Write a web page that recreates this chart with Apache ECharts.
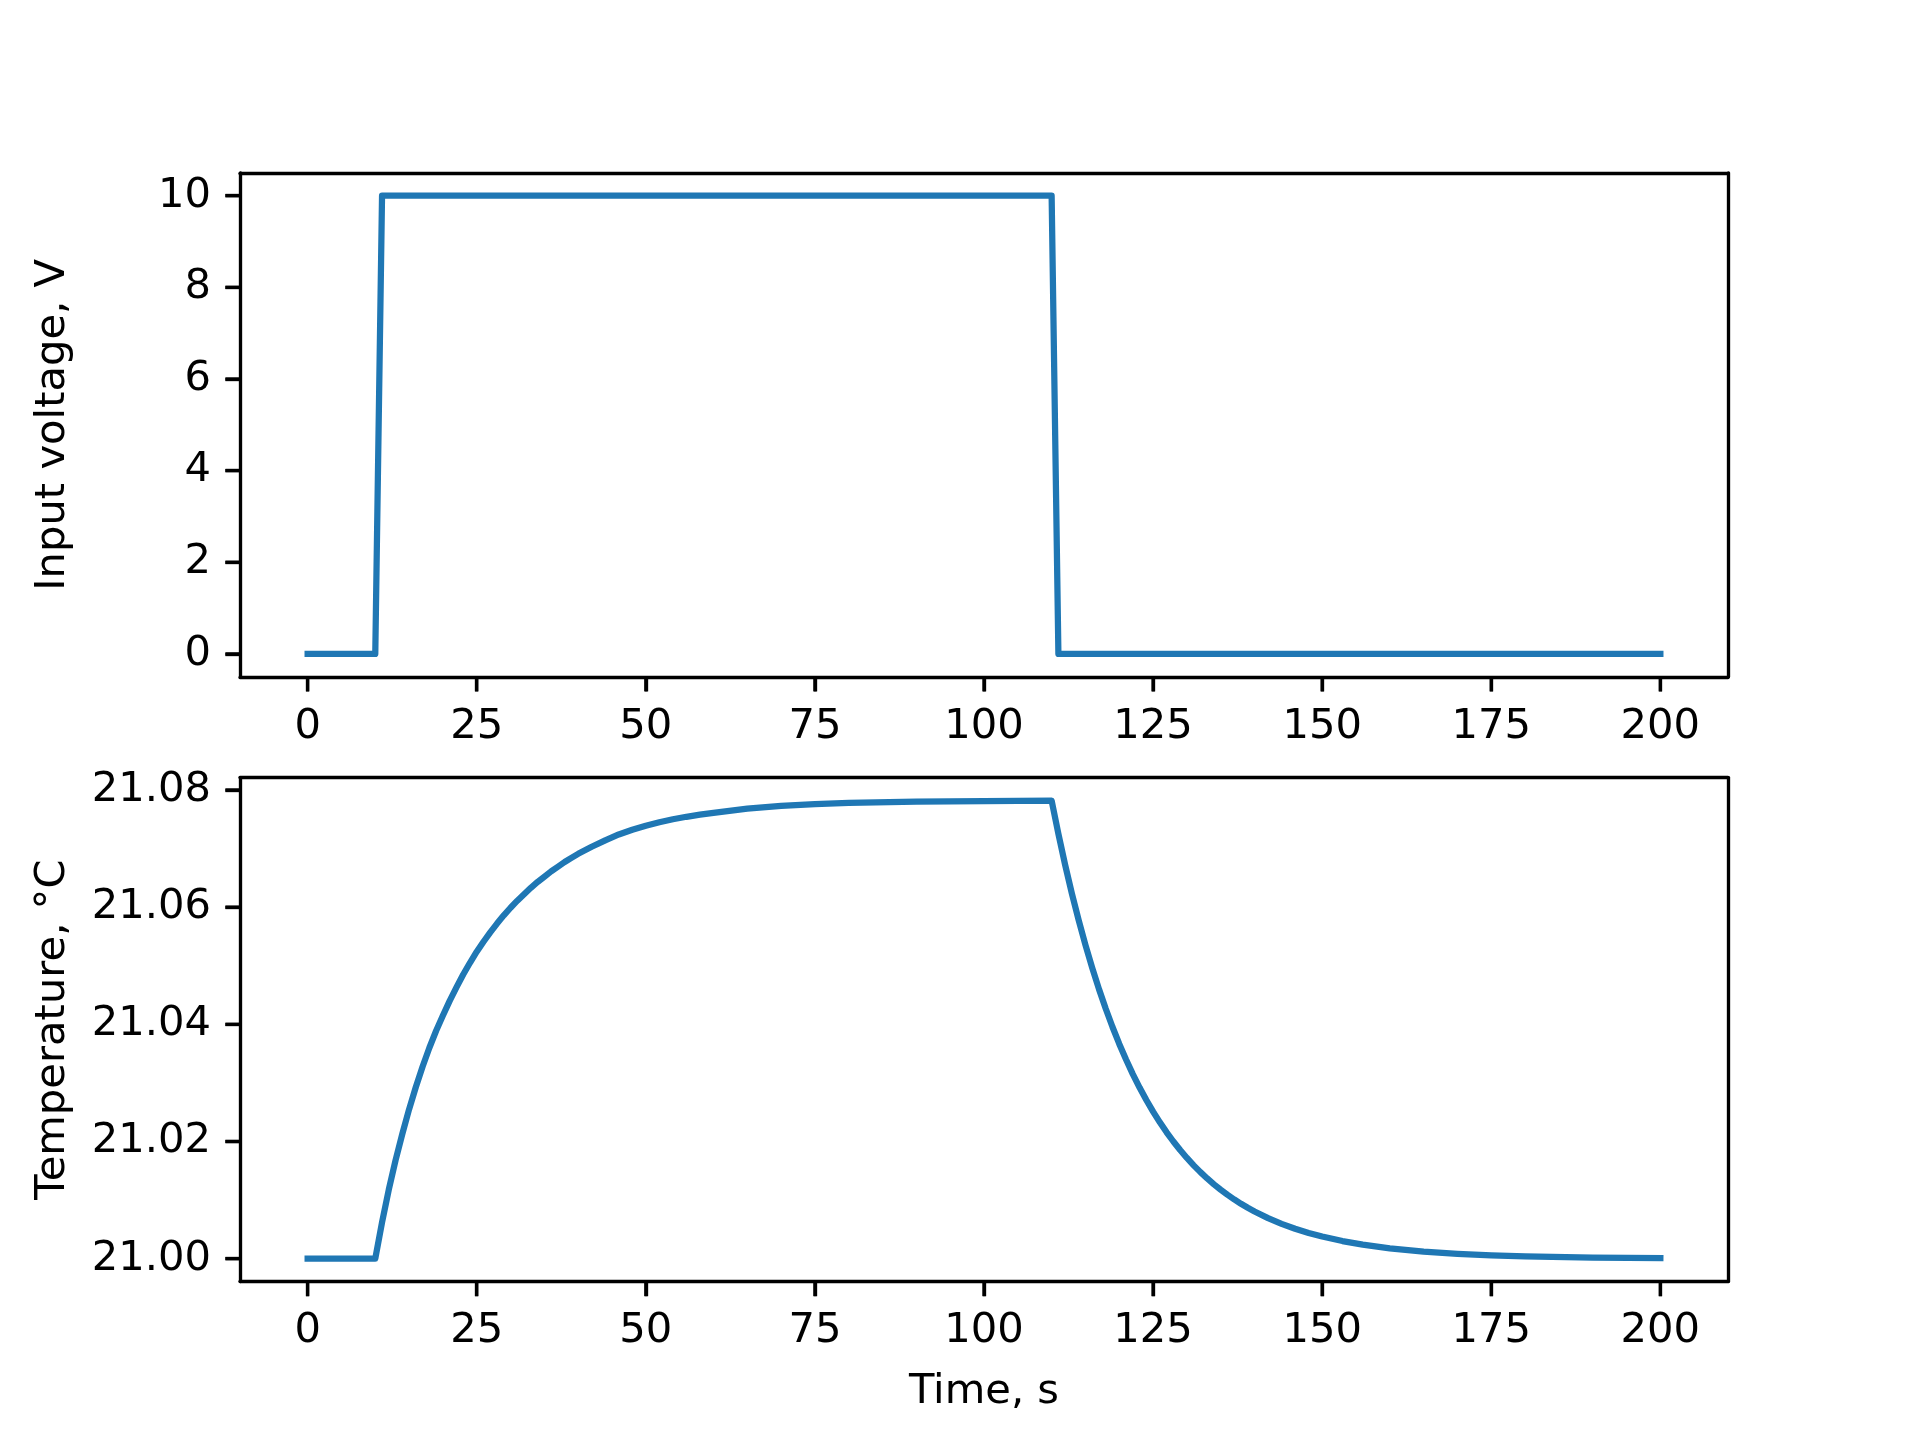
<!DOCTYPE html>
<html>
<head>
<meta charset="utf-8">
<script src="https://cdn.jsdelivr.net/npm/echarts@6/dist/echarts.min.js"></script>
<style>
html,body{margin:0;padding:0;background:#fff;}
#chart{width:1920px;height:1440px;}
</style>
</head>
<body>
<div id="chart"></div>
<script>
// ---- data ----
const voltageTime = [0, 10, 11, 110, 111, 200];
const voltageValue = [0, 0, 10, 10, 0, 0];

const tempTime = [
  0, 10, 11, 12, 13, 14, 15, 16, 17, 18, 19, 20, 21, 22, 23, 24, 25, 26, 27, 28, 29,
  30, 31, 32, 33, 34, 35, 36, 37, 38, 39, 40, 42, 44, 46, 48, 50, 52, 54, 56, 58, 60, 65, 70,
  75, 80, 90, 100, 110,
  111, 112, 113, 114, 115, 116, 117, 118, 119, 120, 121, 122, 123, 124, 125, 126, 127,
  128, 129, 130, 131, 132, 133, 134, 135, 136, 137, 138, 139, 140, 142, 144, 146, 148,
  150, 153, 156, 160, 165, 170, 175, 180, 190, 200];
const tempValue = [
  21.0000, 21.0000, 21.0062, 21.0118, 21.0168, 21.0213, 21.0255, 21.0293, 21.0328, 21.0360,
  21.0389, 21.0415, 21.0440, 21.0463, 21.0485, 21.0505, 21.0524, 21.0541, 21.0557, 21.0572,
  21.0586, 21.0599, 21.0611, 21.0622, 21.0633, 21.0643, 21.0652, 21.0661, 21.0669, 21.0677,
  21.0684, 21.0691, 21.0703, 21.0714, 21.0724, 21.0732, 21.0739, 21.07450, 21.07500, 21.07542,
  21.07578, 21.07610, 21.0768, 21.0773, 21.0776, 21.0778, 21.0780, 21.0781, 21.0782,
  21.07249, 21.06720, 21.06230, 21.05776, 21.05354, 21.04964, 21.04601, 21.04266, 21.03954,
  21.03666, 21.03399, 21.03151, 21.02921, 21.02708, 21.02510, 21.02327, 21.02157, 21.02000,
  21.01854, 21.01719, 21.01593, 21.01477, 21.01369, 21.01269, 21.01177, 21.01091, 21.01011,
  21.00937, 21.00869, 21.00806, 21.00692, 21.00595, 21.00511, 21.00439, 21.00378, 21.00301,
  21.00240, 21.00177, 21.00121, 21.00083, 21.00057, 21.00039, 21.00018, 21.00009];

const xTicks = [0, 25, 50, 75, 100, 125, 150, 175, 200];
const voltTicks = [0, 2, 4, 6, 8, 10];
const tempTicks = [21.00, 21.02, 21.04, 21.06, 21.08];

const xLabel = 'Time, s';
const voltLabel = 'Input voltage, V';
const tempLabel = 'Temperature, °C';

// ---- chart ----
const FONT = 'DejaVu Sans';
const FS = 41.67;
const LW = 3.33;
const TICKLEN = 14.6;
const LINECOLOR = '#1f77b4';
const X_MIN = -10, X_MAX = 210;
const Y_RANGES = [[-0.5, 10.5], [20.99609, 21.08211]];
const GRIDS = [
  { left: 240, top: 172.8, width: 1488, height: 504 },
  { left: 240, top: 777.6, width: 1488, height: 504 }
];
const PAD = 24;
const CLEAR = 'rgba(0,0,0,0)';

function pairs(xs, ys) { return xs.map((x, i) => [x, ys[i]]); }

function xAxisMain(idx, withName) {
  return {
    type: 'value', gridIndex: idx, position: 'bottom', min: X_MIN, max: X_MAX,
    axisLine: { show: true, onZero: false, lineStyle: { color: '#000', width: LW } },
    splitLine: { show: false },
    axisTick: { show: false },
    axisLabel: { show: true, customValues: xTicks, margin: 29, color: '#000', fontFamily: FONT, fontSize: FS },
    name: withName ? xLabel : '',
    nameLocation: 'middle', nameGap: 90,
    nameTextStyle: { color: '#000', fontFamily: FONT, fontSize: FS }
  };
}
function xAxisFrame(idx) {
  return {
    type: 'value', gridIndex: idx, position: 'top', min: X_MIN, max: X_MAX,
    axisLine: { show: true, onZero: false, lineStyle: { color: '#000', width: LW } },
    splitLine: { show: false }, axisTick: { show: false }, axisLabel: { show: false }
  };
}
function yAxisMain(idx, ticks, name, fmt) {
  return {
    type: 'value', gridIndex: idx, position: 'left', min: Y_RANGES[idx][0], max: Y_RANGES[idx][1],
    axisLine: { show: true, onZero: false, lineStyle: { color: '#000', width: LW } },
    splitLine: { show: false },
    axisTick: { show: false },
    axisLabel: { show: true, customValues: ticks, margin: 29, color: '#000', fontFamily: FONT, fontSize: FS, formatter: fmt, padding: [9, 0, 0, 0] },
    name: name, nameLocation: 'middle', nameGap: 166, nameRotate: 90,
    nameTextStyle: { color: '#000', fontFamily: FONT, fontSize: FS }
  };
}
function yAxisFrame(idx) {
  return {
    type: 'value', gridIndex: idx, position: 'right', min: Y_RANGES[idx][0], max: Y_RANGES[idx][1],
    axisLine: { show: true, onZero: false, lineStyle: { color: '#000', width: LW } },
    splitLine: { show: false }, axisTick: { show: false }, axisLabel: { show: false }
  };
}

// Helper grids, slightly larger than each plot: their on-zero axes sit on the
// plot's left/bottom edges so the outward ticks fall inside the helper grid.
function helperGrid(g) {
  const G = GRIDS[g];
  return { left: G.left - PAD, top: G.top, width: G.width + PAD, height: G.height + PAD, show: false };
}
function helperX(g, helperGridIndex) {
  const G = GRIDS[g];
  const span = X_MAX - X_MIN;
  const vals = xTicks.map(t => t - X_MIN);
  return {
    type: 'value', gridIndex: helperGridIndex, position: 'bottom',
    min: -PAD * span / G.width, max: span,
    axisLine: { show: true, onZero: true, lineStyle: { color: CLEAR, width: 0 } },
    splitLine: { show: false },
    axisTick: { show: true, customValues: vals, length: TICKLEN, inside: false, lineStyle: { color: '#000', width: LW } },
    axisLabel: { show: true, customValues: vals, color: CLEAR, formatter: () => ' ' }
  };
}
function helperY(g, helperGridIndex, ticks) {
  const G = GRIDS[g], R = Y_RANGES[g];
  const span = R[1] - R[0];
  const vals = ticks.map(v => v - R[0]);
  return {
    type: 'value', gridIndex: helperGridIndex, position: 'left',
    min: -PAD * span / G.height, max: span,
    axisLine: { show: true, onZero: true, lineStyle: { color: CLEAR, width: 0 } },
    splitLine: { show: false },
    axisTick: { show: true, customValues: vals, length: TICKLEN, inside: false, lineStyle: { color: '#000', width: LW } },
    axisLabel: { show: true, customValues: vals, color: CLEAR, formatter: () => ' ' }
  };
}

// Tick marks also drawn through a custom series on the plot's own axes (not clipped).
function tickSeries(g, values, isX) {
  const edgeY = Y_RANGES[g][0];
  return {
    type: 'custom', xAxisIndex: g, yAxisIndex: g, clip: false, silent: true, z: 10,
    data: values.map(v => isX ? [v, edgeY] : [X_MIN, v]),
    encode: { x: 0, y: 1 },
    renderItem: function (params, api) {
      const p = api.coord([api.value(0), api.value(1)]);
      const shape = isX
        ? { x1: p[0], y1: p[1], x2: p[0], y2: p[1] + TICKLEN }
        : { x1: p[0] - TICKLEN, y1: p[1], x2: p[0], y2: p[1] };
      return { type: 'line', shape: shape, style: { stroke: '#000', lineWidth: LW, fill: null } };
    }
  };
}

const chart = echarts.init(document.getElementById('chart'), null, { renderer: 'canvas' });
chart.setOption({
  animation: false,
  backgroundColor: '#fff',
  tooltip: { show: false },
  grid: [
    Object.assign({ show: false }, GRIDS[0]),
    Object.assign({ show: false }, GRIDS[1]),
    helperGrid(0),
    helperGrid(1)
  ],
  xAxis: [xAxisMain(0, false), xAxisMain(1, true), xAxisFrame(0), xAxisFrame(1), helperX(0, 2), helperX(1, 3)],
  yAxis: [
    yAxisMain(0, voltTicks, voltLabel, v => String(Math.round(v))),
    yAxisMain(1, tempTicks, tempLabel, v => v.toFixed(2)),
    yAxisFrame(0),
    yAxisFrame(1),
    helperY(0, 2, voltTicks),
    helperY(1, 3, tempTicks)
  ],
  series: [
    { type: 'line', xAxisIndex: 0, yAxisIndex: 0, data: pairs(voltageTime, voltageValue), showSymbol: false,
      lineStyle: { color: LINECOLOR, width: 6.25, cap: 'square', join: 'round' }, itemStyle: { color: LINECOLOR } },
    { type: 'line', xAxisIndex: 1, yAxisIndex: 1, data: pairs(tempTime, tempValue), showSymbol: false,
      lineStyle: { color: LINECOLOR, width: 6.25, cap: 'square', join: 'round' }, itemStyle: { color: LINECOLOR } },
    tickSeries(0, xTicks, true),
    tickSeries(1, xTicks, true),
    tickSeries(0, voltTicks, false),
    tickSeries(1, tempTicks, false)
  ]
});
</script>
</body>
</html>
